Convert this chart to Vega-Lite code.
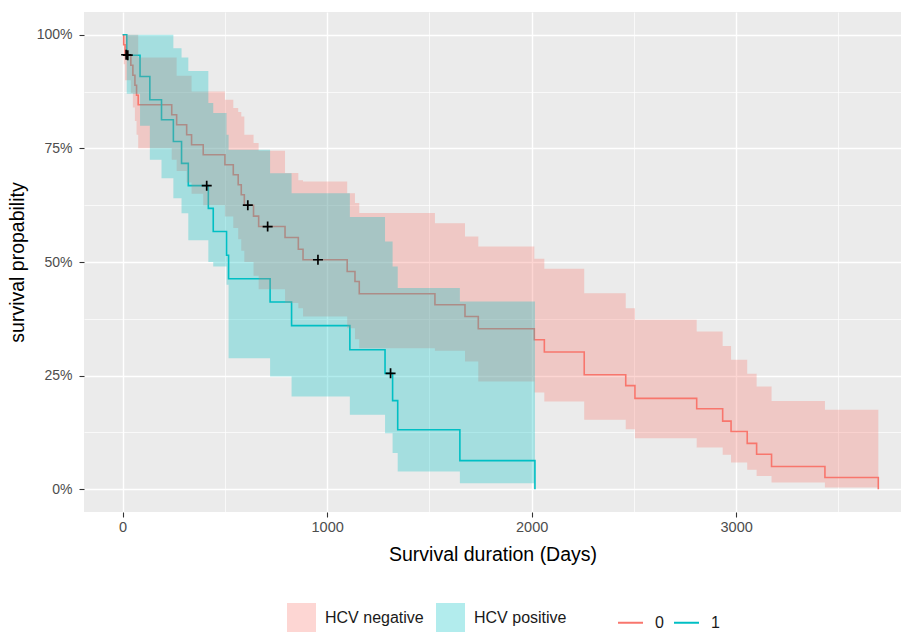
{
  "$schema": "https://vega.github.io/schema/vega-lite/v6.json",
  "width": 817,
  "height": 500,
  "autosize": {"type": "none"},
  "padding": {"left": 84, "top": 12, "right": 0, "bottom": 120},
  "background": "white",
  "config": {
    "view": {"fill": "#EBEBEB", "stroke": null},
    "font": "Liberation Sans"
  },
  "datasets": {
    "km": [
      {"strata": "0", "group": "HCV negative", "t": 0, "surv": 1, "lower": 1, "upper": 1},
      {"strata": "0", "group": "HCV negative", "t": 5, "surv": 0.978, "lower": 0.935, "upper": 1},
      {"strata": "0", "group": "HCV negative", "t": 12, "surv": 0.956, "lower": 0.9, "upper": 1},
      {"strata": "0", "group": "HCV negative", "t": 40, "surv": 0.933, "lower": 0.872, "upper": 1},
      {"strata": "0", "group": "HCV negative", "t": 50, "surv": 0.911, "lower": 0.84, "upper": 1},
      {"strata": "0", "group": "HCV negative", "t": 60, "surv": 0.889, "lower": 0.81, "upper": 1},
      {"strata": "0", "group": "HCV negative", "t": 68, "surv": 0.867, "lower": 0.78, "upper": 1},
      {"strata": "0", "group": "HCV negative", "t": 76, "surv": 0.846, "lower": 0.75, "upper": 0.95},
      {"strata": "0", "group": "HCV negative", "t": 240, "surv": 0.824, "lower": 0.725, "upper": 0.95},
      {"strata": "0", "group": "HCV negative", "t": 264, "surv": 0.802, "lower": 0.7, "upper": 0.91},
      {"strata": "0", "group": "HCV negative", "t": 313, "surv": 0.78, "lower": 0.675, "upper": 0.91},
      {"strata": "0", "group": "HCV negative", "t": 337, "surv": 0.758, "lower": 0.65, "upper": 0.875},
      {"strata": "0", "group": "HCV negative", "t": 394, "surv": 0.736, "lower": 0.625, "upper": 0.875},
      {"strata": "0", "group": "HCV negative", "t": 500, "surv": 0.714, "lower": 0.6, "upper": 0.857},
      {"strata": "0", "group": "HCV negative", "t": 541, "surv": 0.692, "lower": 0.575, "upper": 0.839},
      {"strata": "0", "group": "HCV negative", "t": 565, "surv": 0.67, "lower": 0.55, "upper": 0.83},
      {"strata": "0", "group": "HCV negative", "t": 580, "surv": 0.648, "lower": 0.525, "upper": 0.82},
      {"strata": "0", "group": "HCV negative", "t": 595, "surv": 0.625, "lower": 0.5, "upper": 0.78},
      {"strata": "0", "group": "HCV negative", "t": 640, "surv": 0.601, "lower": 0.47, "upper": 0.762},
      {"strata": "0", "group": "HCV negative", "t": 665, "surv": 0.578, "lower": 0.44, "upper": 0.745},
      {"strata": "0", "group": "HCV negative", "t": 794, "surv": 0.554, "lower": 0.41, "upper": 0.696},
      {"strata": "0", "group": "HCV negative", "t": 859, "surv": 0.528, "lower": 0.398, "upper": 0.68},
      {"strata": "0", "group": "HCV negative", "t": 882, "surv": 0.505, "lower": 0.38, "upper": 0.677},
      {"strata": "0", "group": "HCV negative", "t": 1098, "surv": 0.479, "lower": 0.354, "upper": 0.651},
      {"strata": "0", "group": "HCV negative", "t": 1136, "surv": 0.457, "lower": 0.33, "upper": 0.63},
      {"strata": "0", "group": "HCV negative", "t": 1157, "surv": 0.43, "lower": 0.31, "upper": 0.608},
      {"strata": "0", "group": "HCV negative", "t": 1527, "surv": 0.406, "lower": 0.305, "upper": 0.585},
      {"strata": "0", "group": "HCV negative", "t": 1674, "surv": 0.38, "lower": 0.281, "upper": 0.556},
      {"strata": "0", "group": "HCV negative", "t": 1739, "surv": 0.353, "lower": 0.237, "upper": 0.534},
      {"strata": "0", "group": "HCV negative", "t": 2013, "surv": 0.329, "lower": 0.213, "upper": 0.507},
      {"strata": "0", "group": "HCV negative", "t": 2062, "surv": 0.302, "lower": 0.193, "upper": 0.485},
      {"strata": "0", "group": "HCV negative", "t": 2257, "surv": 0.252, "lower": 0.153, "upper": 0.431},
      {"strata": "0", "group": "HCV negative", "t": 2460, "surv": 0.228, "lower": 0.132, "upper": 0.398},
      {"strata": "0", "group": "HCV negative", "t": 2505, "surv": 0.2, "lower": 0.112, "upper": 0.373},
      {"strata": "0", "group": "HCV negative", "t": 2807, "surv": 0.177, "lower": 0.092, "upper": 0.347},
      {"strata": "0", "group": "HCV negative", "t": 2934, "surv": 0.15, "lower": 0.076, "upper": 0.315},
      {"strata": "0", "group": "HCV negative", "t": 2975, "surv": 0.127, "lower": 0.059, "upper": 0.285},
      {"strata": "0", "group": "HCV negative", "t": 3054, "surv": 0.101, "lower": 0.043, "upper": 0.254},
      {"strata": "0", "group": "HCV negative", "t": 3100, "surv": 0.077, "lower": 0.029, "upper": 0.226},
      {"strata": "0", "group": "HCV negative", "t": 3173, "surv": 0.05, "lower": 0.015, "upper": 0.194},
      {"strata": "0", "group": "HCV negative", "t": 3434, "surv": 0.026, "lower": 0.004, "upper": 0.175},
      {"strata": "0", "group": "HCV negative", "t": 3695, "surv": 0, "lower": 0.004, "upper": 0.175},
      {"strata": "1", "group": "HCV positive", "t": 0, "surv": 1, "lower": 1, "upper": 1},
      {"strata": "1", "group": "HCV positive", "t": 20, "surv": 0.955, "lower": 0.87, "upper": 1},
      {"strata": "1", "group": "HCV positive", "t": 85, "surv": 0.908, "lower": 0.8, "upper": 1},
      {"strata": "1", "group": "HCV positive", "t": 133, "surv": 0.857, "lower": 0.725, "upper": 1},
      {"strata": "1", "group": "HCV positive", "t": 190, "surv": 0.813, "lower": 0.684, "upper": 1},
      {"strata": "1", "group": "HCV positive", "t": 248, "surv": 0.765, "lower": 0.64, "upper": 0.97},
      {"strata": "1", "group": "HCV positive", "t": 288, "surv": 0.717, "lower": 0.607, "upper": 0.95},
      {"strata": "1", "group": "HCV positive", "t": 321, "surv": 0.668, "lower": 0.548, "upper": 0.92},
      {"strata": "1", "group": "HCV positive", "t": 419, "surv": 0.618, "lower": 0.5, "upper": 0.85},
      {"strata": "1", "group": "HCV positive", "t": 443, "surv": 0.567, "lower": 0.49, "upper": 0.828},
      {"strata": "1", "group": "HCV positive", "t": 508, "surv": 0.515, "lower": 0.45, "upper": 0.78},
      {"strata": "1", "group": "HCV positive", "t": 518, "surv": 0.463, "lower": 0.288, "upper": 0.747},
      {"strata": "1", "group": "HCV positive", "t": 721, "surv": 0.412, "lower": 0.248, "upper": 0.695},
      {"strata": "1", "group": "HCV positive", "t": 826, "surv": 0.36, "lower": 0.204, "upper": 0.651},
      {"strata": "1", "group": "HCV positive", "t": 1111, "surv": 0.307, "lower": 0.164, "upper": 0.599},
      {"strata": "1", "group": "HCV positive", "t": 1283, "surv": 0.255, "lower": 0.123, "upper": 0.545},
      {"strata": "1", "group": "HCV positive", "t": 1320, "surv": 0.195, "lower": 0.08, "upper": 0.49},
      {"strata": "1", "group": "HCV positive", "t": 1345, "surv": 0.131, "lower": 0.039, "upper": 0.443},
      {"strata": "1", "group": "HCV positive", "t": 1649, "surv": 0.063, "lower": 0.013, "upper": 0.413},
      {"strata": "1", "group": "HCV positive", "t": 2016, "surv": 0, "lower": 0.013, "upper": 0.413}
    ],
    "censor": [
      {"strata": "0", "t": 17, "surv": 0.956},
      {"strata": "1", "t": 25, "surv": 0.955},
      {"strata": "1", "t": 411, "surv": 0.668},
      {"strata": "0", "t": 612, "surv": 0.625},
      {"strata": "0", "t": 709, "surv": 0.578},
      {"strata": "0", "t": 955, "surv": 0.505},
      {"strata": "1", "t": 1310, "surv": 0.255}
    ]
  },
  "encoding": {
    "x": {
      "field": "t", "type": "quantitative",
      "scale": {"domain": [-189, 3806], "nice": false, "zero": false},
      "axis": {
        "values": [0, 500, 1000, 1500, 2000, 2500, 3000, 3500],
        "format": "d",
        "labelExpr": "datum.value % 1000 === 0 ? datum.label : ''",
        "title": "Survival duration (Days)",
        "grid": true, "gridColor": "white",
        "gridWidth": {"condition": {"test": "datum.value % 1000 === 0", "value": 1.4}, "value": 0.7},
        "tickOpacity": {"condition": {"test": "datum.value % 1000 === 0", "value": 1}, "value": 0},
        "domain": false, "tickColor": "#333333", "tickSize": 5, "tickWidth": 1.1,
        "labelColor": "#4D4D4D", "labelFontSize": 14.5, "labelPadding": 3,
        "titleFontSize": 19.5, "titleColor": "black", "titleFontWeight": "normal", "titlePadding": 12
      }
    }
  },
  "layer": [
    {
      "data": {"name": "km"},
      "mark": {"type": "line", "interpolate": "step-after", "strokeWidth": 1.6},
      "encoding": {
        "y": {
          "field": "surv", "type": "quantitative",
          "scale": {"domain": [-0.05, 1.05], "nice": false, "zero": false},
          "axis": {
            "values": [0, 0.125, 0.25, 0.375, 0.5, 0.625, 0.75, 0.875, 1],
            "labelExpr": "round(datum.value * 8) % 2 === 0 ? format(datum.value, '.0%') : ''",
            "title": "survival propability",
            "grid": true, "gridColor": "white",
            "gridWidth": {"condition": {"test": "round(datum.value * 8) % 2 === 0", "value": 1.4}, "value": 0.7},
            "tickOpacity": {"condition": {"test": "round(datum.value * 8) % 2 === 0", "value": 1}, "value": 0},
            "domain": false, "tickColor": "#333333", "tickSize": 5, "tickWidth": 1.1,
            "labelColor": "#4D4D4D", "labelFontSize": 14, "labelPadding": 7,
            "titleFontSize": 19.5, "titleColor": "black", "titleFontWeight": "normal", "titlePadding": 9
          }
        },
        "stroke": {
          "field": "strata", "type": "nominal",
          "scale": {"domain": ["0", "1"], "range": ["#F8766D", "#00BFC4"]},
          "legend": {
            "title": null, "orient": "none", "legendX": 533, "legendY": 597,
            "direction": "horizontal", "symbolType": "stroke", "symbolSize": 625,
            "symbolStrokeWidth": 2, "labelFontSize": 16, "labelColor": "#1A1A1A",
            "labelOffset": 11, "columnPadding": 6
          }
        }
      }
    },
    {
      "data": {"name": "km"},
      "mark": {"type": "area", "interpolate": "step-after", "opacity": 0.3},
      "encoding": {
        "y": {
          "field": "lower", "type": "quantitative",
          "scale": {"domain": [-0.05, 1.05], "nice": false, "zero": false},
          "axis": {
            "values": [0, 0.125, 0.25, 0.375, 0.5, 0.625, 0.75, 0.875, 1],
            "labelExpr": "round(datum.value * 8) % 2 === 0 ? format(datum.value, '.0%') : ''",
            "title": "survival propability",
            "grid": true, "gridColor": "white",
            "gridWidth": {"condition": {"test": "round(datum.value * 8) % 2 === 0", "value": 1.4}, "value": 0.7},
            "tickOpacity": {"condition": {"test": "round(datum.value * 8) % 2 === 0", "value": 1}, "value": 0},
            "domain": false, "tickColor": "#333333", "tickSize": 5, "tickWidth": 1.1,
            "labelColor": "#4D4D4D", "labelFontSize": 14, "labelPadding": 7,
            "titleFontSize": 19.5, "titleColor": "black", "titleFontWeight": "normal", "titlePadding": 9
          }
        },
        "y2": {"field": "upper"},
        "fill": {
          "field": "group", "type": "nominal",
          "scale": {"domain": ["HCV negative", "HCV positive"], "range": ["#F8766D", "#00BFC4"]},
          "legend": {
            "title": null, "orient": "none", "legendX": 203, "legendY": 591,
            "direction": "horizontal", "symbolType": "square", "symbolSize": 841,
            "symbolStrokeWidth": 0, "labelFontSize": 16, "labelColor": "#1A1A1A",
            "labelOffset": 9, "columnPadding": 12
          }
        }
      }
    },
    {
      "data": {"name": "censor"},
      "mark": {"type": "point", "shape": "M-1,0H1M0,-1V1", "size": 100, "filled": false, "stroke": "black", "strokeWidth": 1.7, "opacity": 1},
      "encoding": {
        "y": {
          "field": "surv", "type": "quantitative",
          "scale": {"domain": [-0.05, 1.05], "nice": false, "zero": false},
          "axis": {
            "values": [0, 0.125, 0.25, 0.375, 0.5, 0.625, 0.75, 0.875, 1],
            "labelExpr": "round(datum.value * 8) % 2 === 0 ? format(datum.value, '.0%') : ''",
            "title": "survival propability",
            "grid": true, "gridColor": "white",
            "gridWidth": {"condition": {"test": "round(datum.value * 8) % 2 === 0", "value": 1.4}, "value": 0.7},
            "tickOpacity": {"condition": {"test": "round(datum.value * 8) % 2 === 0", "value": 1}, "value": 0},
            "domain": false, "tickColor": "#333333", "tickSize": 5, "tickWidth": 1.1,
            "labelColor": "#4D4D4D", "labelFontSize": 14, "labelPadding": 7,
            "titleFontSize": 19.5, "titleColor": "black", "titleFontWeight": "normal", "titlePadding": 9
          }
        }
      }
    }
  ]
}
